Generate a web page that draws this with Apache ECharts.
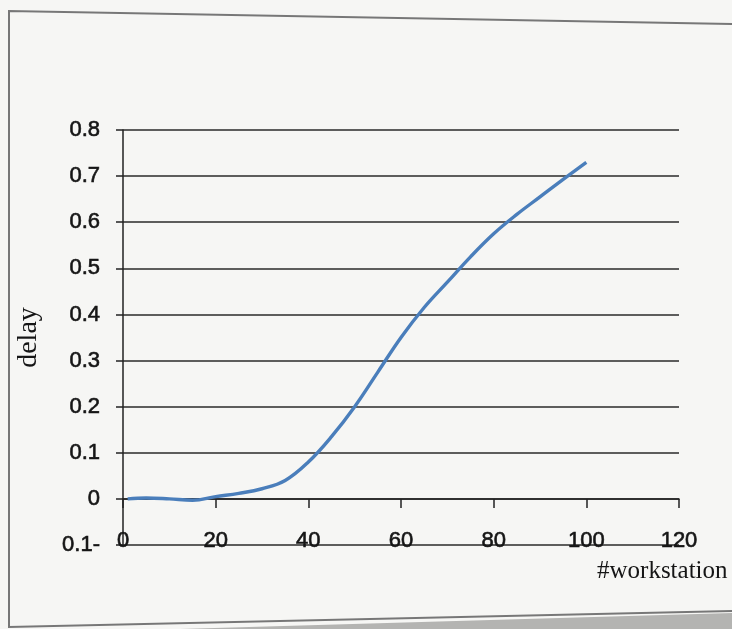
<!DOCTYPE html>
<html>
<head>
<meta charset="utf-8">
<script src="https://cdn.jsdelivr.net/npm/echarts@6/dist/echarts.min.js"></script>
<style>
  html, body { margin: 0; padding: 0; background: #f6f6f4; }
  #chart { width: 732px; height: 629px; }
</style>
</head>
<body>
<div id="chart"></div>
<script>
// Number of workstations and the measured delay
const workstations = [1, 5, 10, 15, 20, 25, 30, 35, 40, 45, 50, 55, 60, 65, 70, 75, 80, 85, 90, 95, 100];
const delay = [0.0, 0.002, 0.0, -0.003, 0.005, 0.012, 0.022, 0.04, 0.08, 0.135, 0.2, 0.275, 0.35, 0.415, 0.47, 0.525, 0.575, 0.617, 0.655, 0.693, 0.73];

const xTicks = [0, 20, 40, 60, 80, 100, 120];
const yTicks = [-0.1, 0, 0.1, 0.2, 0.3, 0.4, 0.5, 0.6, 0.7, 0.8];

const yAxisTitle = 'delay';
const xAxisTitle = '#workstation';

const chart = echarts.init(document.getElementById('chart'), null, { renderer: 'canvas' });

const points = workstations.map((w, i) => [w, delay[i]]);

// Negative values use a trailing minus, e.g. "0.1-"
function fmtY(v) {
  const r = Math.round(v * 10) / 10;
  if (r < 0) return Math.abs(r).toFixed(1) + '-';
  if (r === 0) return '0';
  return r.toFixed(1);
}

const tickFont = {
  color: '#151515', fontSize: 22,
  fontFamily: '"Liberation Sans", Arial, sans-serif',
  textBorderColor: '#151515', textBorderWidth: 0.6
};

chart.setOption({
  backgroundColor: '#f6f6f4',
  animation: false,
  grid: { left: 123, right: 53, top: 130, bottom: 84 },
  xAxis: [
    {
      // axis line at y = 0 with its ticks
      type: 'value',
      min: xTicks[0], max: xTicks[xTicks.length - 1], interval: 20,
      axisLine: { show: true, onZero: true, lineStyle: { color: '#222', width: 1.5 } },
      axisTick: { show: true, length: 9, lineStyle: { color: '#222', width: 1.5 } },
      axisLabel: { show: false },
      splitLine: { show: false }
    },
    {
      // tick labels sitting on the bottom gridline
      type: 'value',
      position: 'bottom',
      min: xTicks[0], max: xTicks[xTicks.length - 1], interval: 20,
      axisLine: { show: false, onZero: false },
      axisTick: { show: false },
      splitLine: { show: false },
      axisLabel: Object.assign({ show: true, margin: -4, verticalAlign: 'middle' }, tickFont)
    }
  ],
  yAxis: {
    type: 'value',
    min: yTicks[0], max: yTicks[yTicks.length - 1], interval: 0.1,
    name: yAxisTitle,
    nameLocation: 'middle',
    nameGap: 80,
    nameTextStyle: { color: '#151515', fontSize: 28, fontFamily: '"Liberation Serif", "DejaVu Serif", serif' },
    axisLine: { show: true, lineStyle: { color: '#222', width: 1.5 } },
    axisTick: { show: true, length: 7, lineStyle: { color: '#222', width: 1.5 } },
    axisLabel: Object.assign({ margin: 23, formatter: fmtY }, tickFont),
    splitLine: { show: true, lineStyle: { color: '#2a2a2a', width: 1.6 } }
  },
  series: [{
    type: 'line',
    xAxisIndex: 0,
    data: points,
    smooth: 0.4,
    showSymbol: false,
    lineStyle: { color: '#4a7ebb', width: 3.4 },
    z: 5
  }],
  graphic: [
    {
      type: 'polyline', silent: true,
      shape: { points: [[732, 24], [9, 11], [9, 627], [732, 611]] },
      style: { stroke: '#777', lineWidth: 2, fill: null }
    },
    {
      type: 'polygon', silent: true,
      shape: { points: [[180, 629], [732, 613], [732, 629]] },
      style: { fill: '#b4b4b2' }
    },
    {
      type: 'text', left: 597, top: 559, silent: true,
      style: { text: xAxisTitle, fill: '#151515', fontSize: 25, fontFamily: '"Liberation Serif", "DejaVu Serif", serif' }
    }
  ]
});
</script>
</body>
</html>
